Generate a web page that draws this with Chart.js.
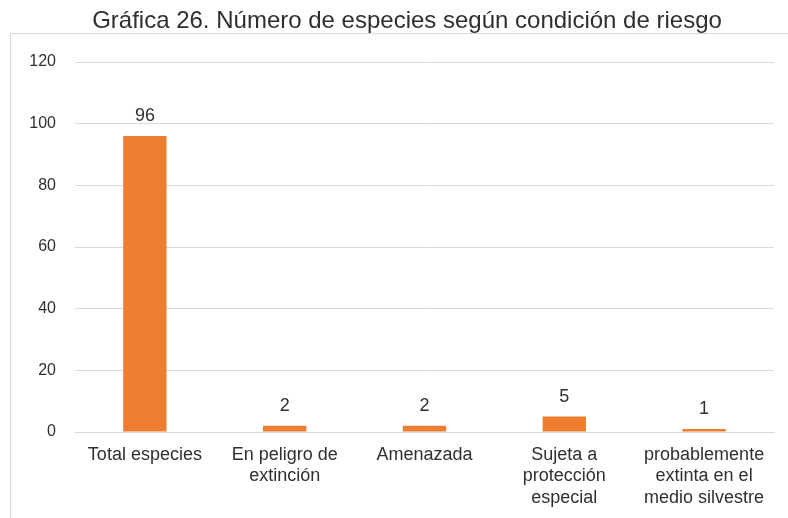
<!DOCTYPE html>
<html>
<head>
<meta charset="utf-8">
<script src="https://cdn.jsdelivr.net/npm/chart.js@4"></script>
<style>
  html, body { margin: 0; padding: 0; background: #fff; }
  #wrap { width: 788px; height: 518px; }
</style>
</head>
<body>
<div id="wrap"><canvas id="myChart" width="788" height="518"></canvas></div>
<script>
const titulo = 'Gráfica 26. Número de especies según condición de riesgo';
const categorias = [
  'Total especies',
  ['En peligro de', 'extinción'],
  'Amenazada',
  ['Sujeta a', 'protección', 'especial'],
  ['probablemente', 'extinta en el', 'medio silvestre']
];
const especies = [96, 2, 2, 5, 1];
const ticksY = [0, 20, 40, 60, 80, 100, 120];

const corTexto = '#2f2f2f';
const corGrade = '#d9d9d9';
const fonte = '"Liberation Sans", Arial, sans-serif';

// rótulos de valor acima das barras
const rotulos = {
  id: 'rotulos',
  afterDatasetsDraw(chart) {
    const ctx = chart.ctx;
    const meta = chart.getDatasetMeta(0);
    ctx.save();
    ctx.font = '18px ' + fonte;
    ctx.fillStyle = corTexto;
    ctx.textAlign = 'center';
    ctx.textBaseline = 'middle';
    meta.data.forEach((bar, i) => {
      ctx.fillText(String(especies[i]), bar.x, bar.y - 20);
    });
    ctx.restore();
  }
};

// moldura do gráfico (esquerda e topo) e título
const moldura = {
  id: 'moldura',
  beforeDraw(chart) {
    const ctx = chart.ctx;
    ctx.save();
    ctx.strokeStyle = corGrade;
    ctx.lineWidth = 1;
    ctx.beginPath();
    ctx.moveTo(10.5, chart.height);
    ctx.lineTo(10.5, 33.5);
    ctx.lineTo(chart.width, 33.5);
    ctx.stroke();

    ctx.font = '24px ' + fonte;
    ctx.fillStyle = corTexto;
    ctx.textAlign = 'center';
    ctx.textBaseline = 'alphabetic';
    ctx.fillText(titulo, 407, 28);
    ctx.restore();
  }
};

const ctx = document.getElementById('myChart').getContext('2d');
new Chart(ctx, {
  type: 'bar',
  data: {
    labels: categorias,
    datasets: [{
      label: 'Número de especies',
      data: especies,
      backgroundColor: '#ED7D31',
      borderWidth: 0,
      categoryPercentage: 1,
      barPercentage: 0.31
    }]
  },
  plugins: [moldura, rotulos],
  options: {
    responsive: false,
    animation: false,
    layout: { padding: { left: 20, right: 14, top: 62, bottom: 0 } },
    plugins: {
      legend: { display: false },
      tooltip: { enabled: false },
      title: { display: false }
    },
    scales: {
      x: {
        grid: { display: false, drawTicks: false },
        border: { color: corGrade },
        ticks: {
          color: corTexto,
          padding: 12,
          maxRotation: 0,
          autoSkip: false,
          font: { family: fonte, size: 18, lineHeight: 1.2 }
        },
        afterFit(scale) { scale.height = 86; }
      },
      y: {
        min: 0,
        max: 120,
        afterBuildTicks(scale) { scale.ticks = ticksY.map(v => ({ value: v })); },
        grid: { color: corGrade, drawTicks: false },
        border: { display: false },
        ticks: {
          color: corTexto,
          padding: 19,
          font: { family: fonte, size: 16 }
        },
        afterFit(scale) { scale.width = 55; }
      }
    }
  }
});
</script>
</body>
</html>
